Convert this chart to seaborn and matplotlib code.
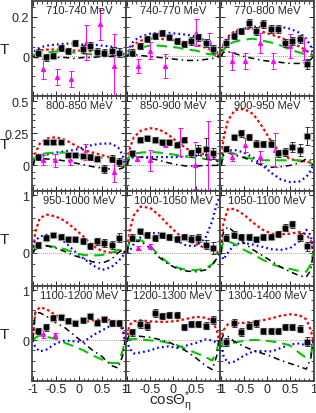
import numpy as np
import matplotlib
matplotlib.use("Agg")
import matplotlib.pyplot as plt
import seaborn as sns
from matplotlib.ticker import MultipleLocator, AutoMinorLocator

# energy bins
TITLES = ['710-740 MeV', '740-770 MeV', '770-800 MeV',
          '800-850 MeV', '850-900 MeV', '900-950 MeV',
          '950-1000 MeV', '1000-1050 MeV', '1050-1100 MeV',
          '1100-1200 MeV', '1200-1300 MeV', '1300-1400 MeV']

# model curves sampled at cos(theta)
XC = [-1, -0.95, -0.85, -0.7, -0.5, -0.3, -0.1, 0.1, 0.3, 0.5, 0.7, 0.85, 0.95, 1]

RED = [
    [0, 0.02, 0.03, 0.035, 0.035, 0.035, 0.03, 0.03, 0.025, 0.02, 0.02, 0.015, 0.01, 0],
    [0, 0.03, 0.06, 0.08, 0.09, 0.09, 0.085, 0.08, 0.07, 0.06, 0.045, 0.03, 0.015, 0],
    [0, 0.06, 0.1, 0.13, 0.14, 0.14, 0.125, 0.11, 0.095, 0.075, 0.05, 0.03, 0.015, 0],
    [0, 0.09, 0.17, 0.21, 0.22, 0.2, 0.16, 0.12, 0.1, 0.08, 0.06, 0.045, 0.03, 0],
    [0, 0.12, 0.22, 0.27, 0.29, 0.28, 0.24, 0.18, 0.13, 0.1, 0.085, 0.07, 0.04, 0],
    [0, 0.2, 0.35, 0.43, 0.44, 0.4, 0.3, 0.18, 0.09, 0.05, 0.035, 0.03, 0.02, 0],
    [0, 0.35, 0.6, 0.66, 0.63, 0.55, 0.42, 0.28, 0.12, 0.03, 0.0, 0.02, 0.05, 0],
    [0, 0.35, 0.65, 0.8, 0.78, 0.65, 0.48, 0.33, 0.22, 0.15, 0.08, 0.05, 0.02, 0],
    [0, 0.5, 0.76, 0.76, 0.66, 0.52, 0.4, 0.33, 0.32, 0.33, 0.36, 0.32, 0.2, 0],
    [0, 0.55, 0.66, 0.62, 0.5, 0.4, 0.35, 0.36, 0.4, 0.42, 0.4, 0.35, 0.2, 0],
    [0, 0.3, 0.38, 0.4, 0.38, 0.37, 0.37, 0.39, 0.43, 0.47, 0.45, 0.4, 0.2, 0],
    [0, 0.2, 0.32, 0.34, 0.35, 0.37, 0.4, 0.44, 0.49, 0.52, 0.5, 0.42, 0.2, 0],
]
BLUE = [
    [0, 0.03, 0.045, 0.055, 0.06, 0.065, 0.065, 0.06, 0.06, 0.055, 0.05, 0.04, 0.02, 0],
    [0, 0.04, 0.08, 0.1, 0.115, 0.12, 0.12, 0.115, 0.11, 0.1, 0.08, 0.05, 0.025, 0],
    [0, 0.05, 0.09, 0.12, 0.14, 0.15, 0.15, 0.15, 0.15, 0.14, 0.12, 0.09, 0.05, 0],
    [0, 0.05, 0.07, 0.085, 0.1, 0.11, 0.12, 0.14, 0.16, 0.17, 0.17, 0.14, 0.08, 0],
    [0, 0.05, 0.065, 0.065, 0.065, 0.065, 0.065, 0.065, 0.07, 0.075, 0.08, 0.08, 0.05, 0],
    [0, 0.09, 0.115, 0.12, 0.1, 0.06, 0.0, -0.06, -0.11, -0.13, -0.125, -0.09, -0.04, 0],
    [0, 0.2, 0.28, 0.31, 0.29, 0.18, 0.03, -0.1, -0.22, -0.3, -0.25, -0.15, -0.06, 0],
    [0, 0.02, 0.15, 0.27, 0.34, 0.34, 0.3, 0.2, 0.12, 0.12, 0.25, 0.55, 0.85, 0.95],
    [0, -0.12, 0.0, 0.15, 0.17, 0.14, 0.1, 0.06, 0.05, 0.08, 0.2, 0.4, 0.3, 0],
    [0, -0.13, -0.22, -0.18, -0.06, 0.0, -0.02, -0.03, 0.1, 0.2, 0.3, 0.38, 0.25, 0],
    [0, -0.15, -0.26, -0.24, -0.2, -0.14, -0.12, -0.15, -0.1, -0.05, 0.02, 0.0, -0.05, 0],
    [0, -0.3, -0.45, -0.42, -0.3, -0.22, -0.21, -0.22, -0.15, -0.08, -0.06, -0.1, -0.12, 0],
]
GREEN = [
    [0, 0.01, 0.015, 0.02, 0.025, 0.025, 0.02, 0.015, 0.01, 0.005, 0.005, 0.005, 0.0, 0],
    [0, 0.02, 0.035, 0.045, 0.055, 0.055, 0.05, 0.045, 0.035, 0.03, 0.015, 0.01, 0.005, 0],
    [0, 0.03, 0.06, 0.075, 0.085, 0.09, 0.08, 0.07, 0.055, 0.035, 0.02, 0.01, 0.005, 0],
    [0, 0.06, 0.085, 0.095, 0.1, 0.1, 0.085, 0.075, 0.07, 0.06, 0.05, 0.04, 0.02, 0],
    [0, 0.07, 0.09, 0.1, 0.105, 0.1, 0.09, 0.08, 0.07, 0.06, 0.05, 0.04, 0.02, 0],
    [0, 0.09, 0.11, 0.09, 0.065, 0.05, 0.04, 0.04, 0.04, 0.04, 0.04, 0.03, 0.02, 0],
    [0, 0.1, 0.12, 0.12, 0.1, 0.06, 0.0, -0.04, -0.05, -0.04, 0.0, 0.05, 0.04, 0],
    [0, 0.18, 0.22, 0.22, 0.12, -0.05, -0.18, -0.26, -0.3, -0.3, -0.28, -0.2, -0.1, 0],
    [0, 0.2, 0.2, 0.15, 0.05, -0.03, -0.12, -0.2, -0.25, -0.28, -0.32, -0.33, -0.2, 0],
    [0, 0.05, 0.1, 0.07, 0.03, -0.05, -0.12, -0.2, -0.3, -0.38, -0.45, -0.45, -0.2, 0],
    [0, 0.03, 0.03, 0.02, 0.0, -0.01, -0.05, -0.1, -0.18, -0.25, -0.33, -0.4, -0.2, 0],
    [0, -0.12, -0.08, -0.04, -0.01, 0.01, 0.0, -0.02, -0.05, -0.1, -0.25, -0.35, -0.3, 0],
]
BLACK = [
    [0, -0.005, -0.005, -0.005, -0.005, -0.005, -0.01, -0.005, -0.005, 0, 0, 0, 0, 0],
    [0, 0.01, 0.01, 0.005, 0, -0.005, -0.01, -0.015, -0.02, -0.02, -0.015, -0.01, -0.005, 0],
    [0, 0.02, 0.025, 0.015, 0.0, -0.01, -0.02, -0.025, -0.03, -0.035, -0.035, -0.03, -0.015, 0],
    [0, 0.05, 0.055, 0.05, 0.045, 0.035, 0.02, 0.005, -0.01, -0.02, -0.03, -0.03, -0.02, 0],
    [0, 0.06, 0.07, 0.065, 0.055, 0.04, 0.02, 0.005, -0.005, -0.005, 0, 0, 0, 0],
    [0, 0.08, 0.1, 0.08, 0.06, 0.03, 0.0, -0.015, -0.01, 0.0, 0.02, 0.05, 0.04, 0],
    [0, 0.06, 0.09, 0.12, 0.08, 0.02, -0.05, -0.1, -0.16, -0.18, -0.12, 0.0, 0.05, 0],
    [0, 0.18, 0.2, 0.2, 0.08, -0.08, -0.2, -0.28, -0.32, -0.33, -0.3, -0.22, -0.1, 0],
    [0, 0.35, 0.45, 0.35, 0.17, 0.05, -0.05, -0.15, -0.25, -0.33, -0.4, -0.42, -0.3, 0],
    [0, 0.55, 0.55, 0.48, 0.35, 0.25, 0.1, -0.05, -0.2, -0.32, -0.5, -0.55, -0.3, 0],
    [0, 0.1, 0.1, 0.08, 0.06, 0.02, -0.03, -0.12, -0.22, -0.35, -0.5, -0.58, -0.3, 0],
    [0, 0.1, 0.08, -0.03, -0.12, -0.2, -0.26, -0.32, -0.4, -0.46, -0.52, -0.57, -0.35, 0],
]

# black data points (this work)
PT_X = [-0.88, -0.71, -0.56, -0.40, -0.24, -0.08, 0.08, 0.23, 0.39, 0.54, 0.71, 0.86]
PT_Y = [
    [0.02, -0.005, 0.005, 0.045, 0.03, 0.07, 0.04, 0.055, 0.025, 0.02, 0.03, 0.02],
    [0.02, 0.054, 0.088, 0.105, 0.12, 0.096, 0.08, 0.063, 0.08, 0.096, 0.07, 0.037],
    [0.07, 0.105, 0.13, 0.17, 0.13, 0.164, 0.14, 0.14, 0.07, 0.08, 0.088, -0.038],
    [0.066, 0.185, 0.185, 0.185, 0.085, 0.08, 0.07, 0.066, 0.053, -0.026, 0.053, 0.026],
    [0.093, 0.2, 0.21, 0.2, 0.18, 0.18, 0.16, 0.2, 0.093, 0.12, 0.13, 0.093],
    [0.13, 0.22, 0.25, 0.22, 0.17, 0.167, 0.17, 0.093, 0.105, 0.145, 0.12, 0.23],
    [0.14, 0.26, 0.31, 0.28, 0.23, 0.23, 0.2, 0.11, 0.2, 0.17, 0.14, 0.26],
    [0.26, 0.37, 0.31, 0.26, 0.3, 0.27, 0.24, 0.28, 0.24, 0.26, 0.14, 0.08],
    [0.26, 0.31, 0.27, 0.27, 0.23, 0.27, 0.28, 0.32, 0.43, 0.49, 0.28, 0.11],
    [0.19, 0.26, 0.45, 0.46, 0.39, 0.34, 0.4, 0.48, 0.35, 0.42, 0.35, 0.35],
    [0.16, 0.32, 0.29, 0.55, 0.48, 0.5, 0.5, 0.27, 0.33, 0.32, 0.29, 0.4],
    [-0.03, 0.34, 0.16, 0.29, 0.34, 0.19, 0.19, 0.19, 0.26, 0.27, 0.23, -0.03],
]
PT_ERR = [
    [0.02, 0.02, 0.015, 0.015, 0.015, 0.015, 0.02, 0.02, 0.02, 0.02, 0.02, 0.025],
    [0.02, 0.015, 0.015, 0.015, 0.015, 0.015, 0.015, 0.015, 0.02, 0.02, 0.02, 0.02],
    [0.02, 0.015, 0.015, 0.02, 0.02, 0.02, 0.02, 0.02, 0.02, 0.02, 0.02, 0.025],
    [0.02, 0.015, 0.015, 0.015, 0.015, 0.015, 0.015, 0.02, 0.02, 0.03, 0.03, 0.03],
    [0.02, 0.02, 0.02, 0.02, 0.02, 0.02, 0.02, 0.02, 0.03, 0.04, 0.08, 0.04],
    [0.02, 0.02, 0.025, 0.025, 0.025, 0.025, 0.03, 0.03, 0.03, 0.04, 0.05, 0.07],
    [0.05, 0.04, 0.04, 0.04, 0.04, 0.04, 0.05, 0.05, 0.06, 0.07, 0.07, 0.08],
    [0.06, 0.05, 0.05, 0.05, 0.05, 0.05, 0.05, 0.05, 0.06, 0.07, 0.08, 0.1],
    [0.06, 0.06, 0.05, 0.05, 0.05, 0.05, 0.05, 0.05, 0.06, 0.06, 0.07, 0.08],
    [0.06, 0.07, 0.05, 0.05, 0.05, 0.05, 0.05, 0.05, 0.05, 0.05, 0.06, 0.06],
    [0.07, 0.08, 0.08, 0.08, 0.06, 0.06, 0.06, 0.06, 0.06, 0.06, 0.07, 0.08],
    [0.08, 0.08, 0.08, 0.07, 0.07, 0.06, 0.06, 0.06, 0.06, 0.06, 0.07, 0.09],
]

# magenta points (previous data)
MG_X = [
    [-0.79, -0.47, -0.17, 0.16, 0.45, 0.77],
    [-0.77, -0.49, -0.17, 0.5, 0.79],
    [-0.75, -0.47, -0.15, 0.13, 0.49, 0.81],
    [-0.79, -0.51, -0.19, 0.13, 0.77],
    [-0.79, -0.49, -0.17, 0.15, 0.47, 0.75],
    [-0.75, -0.47, -0.15, 0.17],
    [], [-0.77, -0.49], [], [-0.79, -0.51], [], [],
]
MG_Y = [
    [-0.064, -0.105, -0.114, 0.07, 0.163, -0.047],
    [-0.047, 0.03, -0.047, 0.12, 0.08],
    [-0.022, -0.022, 0.07, -0.022, 0.054, 0.037],
    [0.04, 0.04, 0.053, 0.105, -0.053],
    [0.053, 0.04, 0.17, 0.185, 0.0, 0.066],
    [0.066, 0.16, 0.066, 0.12],
    [], [0.08, 0.11], [], [0.13, 0.1], [], [],
]
MG_ERR = [
    [0.05, 0.04, 0.04, 0.09, 0.08, 0.16],
    [0.035, 0.045, 0.06, 0.068, 0.04],
    [0.046, 0.04, 0.05, 0.04, 0.06, 0.055],
    [0.04, 0.05, 0.05, 0.06, 0.08],
    [0.02, 0.08, 0.03, 0.11, 0.18, 0.28],
    [0.03, 0.055, 0.05, 0.13],
    [], [0.04, 0.04], [], [0.08, 0.05], [], [],
]

ROW_YLIM = [(-0.2, 0.28), (-0.2, 0.54), (-0.58, 1.07), (-0.81, 1.08)]
ROW_YTICKS = [[0, 0.2], [0, 0.25, 0.5], [0, 1], [0, 1]]
ROW_YLABELS = [['0', '0.2'], ['0', '0.25', '0.5'], ['0', '1'], ['0', '1']]

sns.set_style('ticks')
plt.rcParams['font.family'] = ['Liberation Sans', 'DejaVu Sans']
plt.rcParams['mathtext.fontset'] = 'custom'
plt.rcParams['mathtext.rm'] = 'Liberation Sans'
plt.rcParams['mathtext.it'] = 'Liberation Sans'

fig, axes = plt.subplots(4, 3, figsize=(3.16, 4.14), dpi=100, sharex=True)
fig.subplots_adjust(left=0.101, right=0.994, top=0.995, bottom=0.077, hspace=0, wspace=0)

for i, ax in enumerate(axes.flat):
    r, c = divmod(i, 3)
    ax.axhline(0, color='grey', lw=0.6, ls=(0, (1, 1.5)), zorder=1)
    sns.lineplot(x=XC, y=RED[i], ax=ax, color='red', lw=1.6, linestyle=(0, (1.2, 1.2)), zorder=2)
    sns.lineplot(x=XC, y=BLUE[i], ax=ax, color='blue', lw=1.6, linestyle=(0, (0.8, 1.4)), zorder=2)
    sns.lineplot(x=XC, y=GREEN[i], ax=ax, color='#00c800', lw=1.5, linestyle=(0, (5, 3)), zorder=2)
    sns.lineplot(x=XC, y=BLACK[i], ax=ax, color='black', lw=1.1, linestyle=(0, (4, 2.5, 1, 2.5)), zorder=2)

    if MG_X[i]:
        ax.errorbar(MG_X[i], MG_Y[i], yerr=MG_ERR[i], fmt='^', color='magenta', ms=2.8,
                    elinewidth=0.7, capsize=1.8, capthick=0.7, zorder=3)
    ax.errorbar(PT_X, PT_Y[i], yerr=PT_ERR[i], fmt='s', color='#b0b0b0', ms=4.2,
                elinewidth=0, capsize=0, zorder=4)
    ax.errorbar(PT_X, PT_Y[i], yerr=PT_ERR[i], fmt='s', color='black', ms=2.4,
                elinewidth=0.7, ecolor='#333333', capsize=1.8, capthick=0.7, zorder=5)

    ax.text(0.5, 0.905, TITLES[i], transform=ax.transAxes, ha='center', va='center', fontsize=8)

    ax.set_xlim(-1.02, 1.02)
    ax.set_ylim(*ROW_YLIM[r])
    ax.set_yticks(ROW_YTICKS[r])
    ax.xaxis.set_major_locator(MultipleLocator(0.5))
    ax.xaxis.set_minor_locator(MultipleLocator(0.1))
    ax.yaxis.set_minor_locator(AutoMinorLocator())
    ax.tick_params(which='both', direction='in', top=True, right=True, labelsize=9, pad=2)
    ax.tick_params(axis='x', pad=1.2)
    ax.tick_params(which='major', length=3.5, width=0.7)
    ax.tick_params(which='minor', length=2, width=0.6)
    for s in ax.spines.values():
        s.set_linewidth(1.3)
        s.set_color('#444444')

    if c == 0:
        ax.set_yticklabels(ROW_YLABELS[r])
        ax.set_ylabel('T', fontsize=11, rotation=0, ha='center', va='center')
        ax.yaxis.set_label_coords(-0.295, 0.5)
    else:
        ax.tick_params(labelleft=False)
    if r == 3:
        ax.set_xticks([-1, -0.5, 0, 0.5, 1])
        ax.set_xticklabels(['-1', '-0.5', '0', '0.5', '1'])
    else:
        ax.tick_params(labelbottom=False)

fig.text(0.54, 0.021, r'cos$\Theta^{*}_{\eta}$', ha='center', va='baseline', fontsize=11)

fig.savefig('out.png', dpi=100)
